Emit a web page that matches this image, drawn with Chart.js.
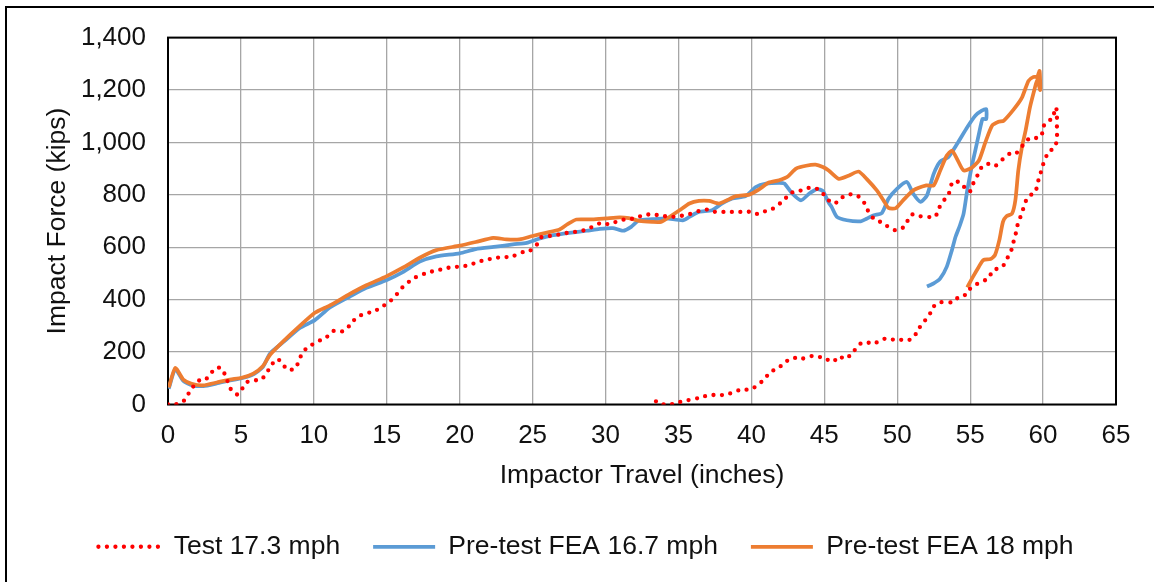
<!DOCTYPE html>
<html>
<head>
<meta charset="utf-8">
<script src="https://cdn.jsdelivr.net/npm/chart.js@4.4.1/dist/chart.umd.min.js"></script>
<style>
  html, body { margin: 0; padding: 0; background: #fff; }
  #wrap { width: 1154px; height: 582px; position: relative; }
</style>
</head>
<body>
<div id="wrap"><canvas id="c" width="1154" height="582"></canvas></div>
<script>
// ---- data ----
const seriesNames = ['Test 17.3 mph', 'Pre-test FEA 16.7 mph', 'Pre-test FEA 18 mph'];

const testX = [0,0.5,1.05,1.4,1.7,2.08,2.5,2.88,3.26,3.67,3.9,4.13,4.36,4.75,5.05,5.4,5.9,6.4,6.8,7.17,7.5,7.85,8.17,8.7,8.97,9.2,9.57,10.07,10.5,11.0,11.37,11.96,12.4,12.74,13.2,13.7,14.25,14.7,15.2,15.6,15.9,16.3,16.8,17.26,17.7,18.3,18.86,19.4,20.0,20.7,21.25,21.8,22.4,22.9,23.65,24.2,24.75,25.2,25.6,26.2,26.85,27.4,28.0,28.56,29.1,29.6,30.3,30.84,31.4,32.0,32.55,33.2,33.8,34.6,35.2,35.75,36.4,37.0,37.5,38.15,38.77,39.4,39.98,40.5,40.96,41.5,42.0,42.4,42.8,43.3,43.86,44.4,44.9,45.3,45.7,46.1,46.6,47.2,47.6,47.85,48.1,48.4,48.83,49.3,49.86,50.4,50.7,51.0,51.5,51.97,52.6,52.83,53.1,53.5,53.8,54.2,54.55,54.96,55.2,55.5,55.76,56.2,56.7,57.06,57.4,57.8,58.16,58.6,59.1,59.6,59.9,60.0,60.3,60.65,60.77,60.9,60.95,60.95,60.95,60.8,60.5,60.3,60.1,59.9,59.8,59.6,59.5,59.2,58.9,58.7,58.55,58.3,58.16,58.0,57.87,57.6,57.3,56.95,56.56,56.26,55.8,55.35,54.9,54.55,54.1,53.75,53.3,52.9,52.5,52.15,51.85,51.5,51.2,50.85,50.3,49.9,49.4,48.9,48.4,47.8,47.35,47.05,46.7,46.4,46.0,45.6,45.1,44.5,43.97,43.45,42.9,42.4,42.0,41.5,41.1,40.8,40.4,39.9,39.3,38.77,38.2,37.65,37.0,36.4,35.9,35.3,34.7,34.2,33.7,33.24];
const testY = [0,0,12,41,66,91,91,114,139,139,114,82,53,38,57,85,92,95,124,156,174,156,133,136,165,196,218,234,247,262,281,279,298,321,340,349,359,374,393,414,437,459,479,494,500,511,516,524,526,532,545,551,560,561,566,580,585,602,638,643,649,655,659,665,678,691,688,700,707,710,722,726,720,716,720,726,738,744,735,735,735,735,735,726,738,748,769,790,809,815,826,826,805,779,766,785,802,798,783,756,728,709,697,681,665,675,700,725,719,716,716,745,773,798,851,849,832,811,842,874,903,918,910,925,946,959,959,988,1017,1017,1026,1058,1083,1089,1115,1134,1096,1055,1013,979,969,956,931,899,874,842,813,801,785,760,728,697,659,627,595,564,532,519,513,481,469,456,437,412,405,390,390,390,374,336,317,291,263,247,247,244,253,247,232,238,228,205,184,174,184,162,174,184,184,174,178,165,146,130,111,92,72,57,57,47,36,37,34,25,19,13,2,1,2,23];

const fea167X = [0.05,0.5,1.05,1.62,2.42,3.34,4.25,5.05,5.85,6.5,7.0,7.9,9.04,10.07,11.1,12.47,13.6,15.0,16.1,17.26,18.4,20.0,21.1,22.5,23.65,24.6,25.5,26.4,27.5,28.7,29.6,30.5,31.2,31.76,32.3,33.2,34.16,35.3,35.75,36.4,37.3,38.0,38.7,39.6,40.3,41.0,41.9,42.26,42.8,43.4,43.97,44.5,44.9,45.3,45.5,45.86,46.55,47.5,47.9,48.4,48.95,49.4,49.98,50.66,51.1,51.6,52.04,52.5,52.95,53.5,54.1,54.8,55.35,55.8,56.1,56.1,55.85,55.6,55.35,55.1,54.8,54.55,54.3,54.0,53.75,53.4,52.95,52.5,52.04];
const fea167Y = [60,135,90,74,70,80,92,100,115,143,195,238,292,322,370,412,445,475,505,545,565,577,593,602,611,617,634,646,655,663,670,673,663,678,703,707,710,703,716,735,741,767,786,795,830,843,846,843,805,779,805,822,815,770,754,716,703,699,709,722,731,785,823,849,804,773,798,880,927,944,994,1058,1102,1121,1127,1089,1090,1032,969,906,817,728,684,640,589,526,481,462,450];

const fea18X = [0.05,0.5,1.05,1.62,2.42,3.34,4.25,5.05,5.85,6.5,7.0,7.9,9.0,10.07,11.1,12.47,13.6,15.0,16.1,17.26,18.4,20.0,21.1,22.3,23.2,24.1,25.0,25.9,26.85,27.4,28.0,29.1,30.05,30.96,31.6,32.3,33.2,33.8,34.4,35.07,35.75,36.4,37.1,37.8,38.95,39.86,40.5,41.2,41.9,42.5,43.06,43.75,44.4,44.9,45.3,46.0,46.7,47.35,47.9,48.6,49.06,49.4,49.9,50.4,51.1,52.0,52.5,52.95,53.4,53.75,54.1,54.55,55.1,55.6,56.04,56.5,56.95,57.3,58.0,58.55,59.0,59.35,59.6,59.76,59.8,59.6,59.4,59.1,58.8,58.55,58.3,58.1,57.87,57.5,57.25,57.0,56.7,56.4,55.9,55.6,55.2,54.8];
const fea18Y = [65,140,95,79,73,84,95,102,118,146,190,241,298,350,378,422,455,490,522,560,589,606,620,636,630,630,643,655,668,688,706,706,710,714,711,701,697,697,716,741,767,777,777,767,795,801,820,847,856,870,900,911,915,906,893,861,874,889,861,817,779,750,749,779,817,836,836,893,950,969,937,893,903,931,1000,1064,1079,1083,1127,1171,1235,1250,1250,1273,1200,1240,1200,1134,1045,982,893,779,728,719,697,627,570,555,551,526,488,447];

const xTicks = [0,5,10,15,20,25,30,35,40,45,50,55,60,65];
const yTicks = [0,200,400,600,800,1000,1200,1400];

const toPts = (xs, ys) => xs.map((x, i) => ({ x: x, y: ys[i] }));

const FONT = "'Liberation Sans', Arial, 'DejaVu Sans', sans-serif";
const TXT = '#111111';

const framePlugin = {
  id: 'frame',
  beforeDatasetsDraw(chart) {
    const { ctx, chartArea: a } = chart;
    ctx.save();
    ctx.strokeStyle = '#000';
    ctx.lineWidth = 2;
    ctx.strokeRect(a.left, a.top, a.right - a.left, a.bottom - a.top);
    ctx.restore();
  },
  afterDraw(chart) {
    const { ctx } = chart;
    ctx.save();
    ctx.fillStyle = '#000';
    ctx.fillRect(5, 6, 2, 576);
    ctx.fillRect(5, 6, 1149, 2);
    ctx.restore();
  }
};

new Chart(document.getElementById('c'), {
  type: 'scatter',
  data: {
    datasets: [
      {
        label: seriesNames[0],
        data: toPts(testX, testY),
        showLine: true,
        borderColor: '#ff0000',
        backgroundColor: '#ff0000',
        borderWidth: 4.3,
        borderDash: [0, 8.5],
        borderCapStyle: 'round',
        pointRadius: 0,
        pointHoverRadius: 0,
        pointStyle: 'line',
        tension: 0.2,
        order: 0
      },
      {
        label: seriesNames[1],
        data: toPts(fea167X, fea167Y),
        showLine: true,
        borderColor: '#5b9bd5',
        backgroundColor: '#5b9bd5',
        borderWidth: 3.75,
        pointRadius: 0,
        pointHoverRadius: 0,
        pointStyle: 'line',
        tension: 0.2,
        order: 2
      },
      {
        label: seriesNames[2],
        data: toPts(fea18X, fea18Y),
        showLine: true,
        borderColor: '#ed7d31',
        backgroundColor: '#ed7d31',
        borderWidth: 3.75,
        pointRadius: 0,
        pointHoverRadius: 0,
        pointStyle: 'line',
        tension: 0.2,
        order: 1
      }
    ]
  },
  options: {
    responsive: false,
    animation: false,
    devicePixelRatio: 1,
    layout: { padding: { left: 56, right: 38, top: 37, bottom: 12 } },
    plugins: {
      tooltip: { enabled: false },
      legend: {
        position: 'bottom',
        align: 'center',
        labels: {
          usePointStyle: true,
          pointStyleWidth: 62,
          boxHeight: 26,
          padding: 33,
          color: TXT,
          font: { family: FONT, size: 26.5 },
          sort: (a, b) => a.datasetIndex - b.datasetIndex,
          generateLabels: (chart) => {
            const items = Chart.defaults.plugins.legend.labels.generateLabels(chart);
            items.forEach(it => {
              const ds = chart.data.datasets[it.datasetIndex];
              it.lineDash = ds.borderDash || [];
              it.lineCap = ds.borderCapStyle || 'butt';
              it.lineWidth = ds.borderWidth;
              it.strokeStyle = ds.borderColor;
              it.fillStyle = ds.borderColor;
              it.pointStyle = 'line';
            });
            return items;
          }
        }
      }
    },
    scales: {
      x: {
        type: 'linear',
        min: 0,
        max: 65,
        afterBuildTicks: (s) => { s.ticks = xTicks.map(v => ({ value: v })); },
        afterFit: (s) => { s.height = 96; },
        grid: { color: '#a6a6a6', lineWidth: 1.3, drawTicks: false },
        border: { display: false },
        ticks: { padding: 15.4, color: TXT, font: { family: FONT, size: 26 }, maxRotation: 0 },
        title: {
          display: true,
          text: 'Impactor Travel (inches)',
          color: TXT,
          font: { family: FONT, size: 26.5 },
          padding: { top: 0, bottom: 9.4 }
        }
      },
      y: {
        type: 'linear',
        min: 0,
        max: 1400,
        afterBuildTicks: (s) => { s.ticks = yTicks.map(v => ({ value: v })); },
        afterFit: (s) => { s.width = 112; },
        grid: { color: '#a6a6a6', lineWidth: 1.3, drawTicks: false },
        border: { display: false },
        ticks: {
          padding: 22,
          color: TXT,
          font: { family: FONT, size: 26 },
          callback: (v) => Number(v).toLocaleString('en-US')
        },
        title: {
          display: true,
          text: 'Impact Force (kips)',
          color: TXT,
          font: { family: FONT, size: 26.5 },
          padding: { top: -14, bottom: 0 }
        }
      }
    }
  },
  plugins: [framePlugin]
});
</script>
</body>
</html>
